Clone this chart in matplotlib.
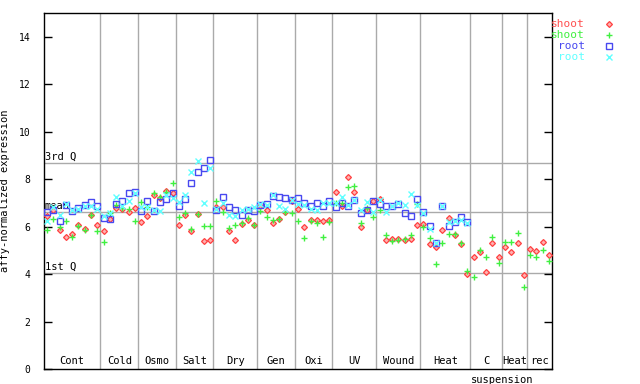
import numpy as np
import matplotlib
matplotlib.use("Agg")
import matplotlib.pyplot as plt
from matplotlib.lines import Line2D

# condition groups along the x axis (samples per group)
groups = ['Cont', 'Cold', 'Osmo', 'Salt', 'Dry', 'Gen', 'Oxi', 'UV',
          'Wound', 'Heat', 'C\nsuspension', 'Heat', 'rec']
group_sizes = [9, 6, 6, 6, 7, 6, 6, 7, 7, 8, 5, 4, 4]

# summary lines
q3 = 8.69
mean_val = 6.62
q1 = 4.05

nan = np.nan

shoot_1 = [6.45, 6.70, 5.85, 5.55, 5.69, 6.05, 5.89, 6.50, 6.07,
           5.83, 6.33, 6.78, 6.74, 6.62, 6.78,
           6.19, 6.45, 7.34, 7.20, 7.48, 7.41,
           6.06, 6.48, 5.82, 6.54, 5.40, 5.44,
           6.82, 6.82, 5.81, 5.44, 6.09, 6.26, 6.05,
           6.87, 6.68, 6.17, 6.31, 6.62, 7.06,
           6.73, 6.00, 6.28, 6.28, 6.23, 6.28,
           7.45, 6.85, 8.08, 7.45, 6.00, 6.71, 7.07,
           7.18, 5.44, 5.47, 5.47, 5.44, 5.47, 6.06,
           6.12, 5.26, 5.12, 5.85, 6.35, 5.64, 5.26, 3.99,
           4.71, 4.92, 4.08, 5.31, 4.71,
           5.13, 4.93, 5.30, 3.95,
           5.05, 4.98, 5.34, 4.79]

shoot_2 = [5.86, 6.31, 5.98, 6.24, 5.55, 6.03, 5.86, 6.50, 5.82,
           5.36, 6.58, 6.90, 6.80, 6.75, 6.23,
           7.03, 6.82, 7.41, 7.24, 7.44, 7.83,
           6.40, 6.58, 5.89, 6.52, 6.03, 6.03,
           7.06, 6.63, 5.92, 6.06, 6.17, 6.35, 6.06,
           6.65, 6.40, 6.26, 6.31, 6.62, 6.57,
           6.24, 5.51, 6.23, 6.14, 5.58, 6.19,
           6.99, 6.99, 7.66, 7.72, 6.14, 6.80, 6.40,
           6.71, 5.64, 5.41, 5.44, 5.47, 5.64, 6.96,
           5.98, 5.51, 4.41, 5.30, 5.69, 5.69, 5.30, 4.15,
           3.89, 5.02, 4.71, 5.58, 4.46,
           5.36, 5.36, 5.72, 3.47,
           4.79, 4.71, 5.02, 4.54]

root_1 = [6.63, 6.71, 6.24, 6.90, 6.66, 6.77, 6.90, 7.03, 6.86,
          6.38, 6.32, 6.96, 7.08, 7.41, 7.45,
          6.66, 7.07, 6.66, 7.03, 7.16, 7.40,
          6.86, 7.18, 7.83, 8.30, 8.46, 8.80,
          6.70, 7.24, 6.82, 6.69, 6.48, 6.71, 6.65,
          6.90, 6.96, 7.27, 7.24, 7.20, 7.14,
          7.20, 6.99, 6.85, 6.99, 6.85, 7.06,
          6.82, 6.99, 6.85, 7.10, 6.57, 6.71, 7.09,
          6.95, 6.85, 6.87, 6.96, 6.57, 6.45, 7.16,
          6.63, 6.01, 5.29, 6.87, 6.03, 6.21, 6.40, 6.18,
          nan, nan, nan, nan, nan,
          nan, nan, nan, nan,
          nan, nan, nan, nan]

root_2 = [6.24, 6.81, 6.49, 6.96, 6.70, 6.75, 6.88, 6.88, 6.73,
          6.45, 6.59, 7.24, 6.85, 7.06, 7.40,
          6.83, 6.82, 6.70, 6.65, 7.34, 7.19,
          7.04, 7.34, 8.29, 8.76, 6.99, 8.47,
          6.76, 7.00, 6.48, 6.45, 6.68, 6.75, 6.82,
          6.96, 6.90, 7.34, 6.87, 6.73, 7.10,
          6.96, 6.90, 6.73, 6.68, 6.99, 6.99,
          6.99, 7.24, 6.90, 7.12, 6.71, 7.03, 6.62,
          7.13, 6.62, 6.85, 6.99, 6.91, 7.38, 6.92,
          6.57, 5.89, 5.30, 6.87, 6.18, 6.23, 6.26, 6.17,
          nan, nan, nan, nan, nan,
          nan, nan, nan, nan,
          nan, nan, nan, nan]

series = [
    ('shoot', shoot_1, '#ff5050', dict(marker='D', ms=3.0, mfc='#ffb0b0', mec='#ff4040', mew=0.9)),
    ('shoot', shoot_2, '#40f040', dict(marker='+', ms=5.0, mec='#40f040', mew=1.0)),
    ('root', root_1, '#4848f0', dict(marker='s', ms=4.0, mfc='none', mec='#4848f0', mew=1.0)),
    ('root', root_2, '#60ffff', dict(marker='x', ms=3.8, mec='#60ffff', mew=1.0)),
]

plt.rcParams['font.family'] = ['DejaVu Sans Mono']
fs = 7.5

fig = plt.figure(figsize=(6.4, 3.84), dpi=100)
ax = fig.add_axes([44 / 640, 15 / 384, 508 / 640, 356 / 384])

n = sum(group_sizes)
x = np.arange(n) + 0.5
edges = np.cumsum([0] + group_sizes)

# group separators and summary lines
for e in edges[1:-1]:
    ax.axvline(e, color='#aaaaaa', lw=1, zorder=1)
for v in (q3, mean_val, q1):
    ax.axhline(v, color='#aaaaaa', lw=1, zorder=1)
ax.text(0.1, q3 + 0.05, '3rd Q', fontsize=fs, va='bottom', ha='left', zorder=2)
ax.text(0.1, mean_val + 0.05, 'mean', fontsize=fs, va='bottom', ha='left', zorder=2)
ax.text(0.1, q1 + 0.05, '1st Q', fontsize=fs, va='bottom', ha='left', zorder=2)

for name, vals, col, st in series:
    ax.plot(x, vals, ls='none', zorder=3, **st)

# group labels inside the bottom of the plot
for g, a, b in zip(groups, edges[:-1], edges[1:]):
    c = (a + b) / 2
    parts = g.split('\n')
    ax.text(c, 0.12, parts[0], fontsize=fs, ha='center', va='bottom')
    if len(parts) > 1:
        ax.text(c + 2.6, -0.25, parts[1], fontsize=fs, ha='center', va='top')

ax.set_xlim(0, n)
ax.set_ylim(0, 15)
ax.set_xticks([])
ax.set_yticks(range(0, 15, 2))
ax.tick_params(axis='y', direction='in', length=6, width=1, pad=10,
               labelsize=7, right=True)
ax.set_ylabel('affy-normalized expression', fontsize=fs)
ax.yaxis.set_label_coords(-0.066, 0.5)
for s in ax.spines.values():
    s.set_linewidth(1)

# legend to the right of the plot
ly = [24, 35, 46, 57]
for (name, vals, col, st), yy in zip(series, ly):
    fig.text(585 / 640, 1 - yy / 384, name, color=col, fontsize=8,
             ha='right', va='center')
    fig.add_artist(Line2D([609 / 640], [1 - yy / 384], ls='none',
                          transform=fig.transFigure, **st))

fig.savefig('out.png', dpi=100)
